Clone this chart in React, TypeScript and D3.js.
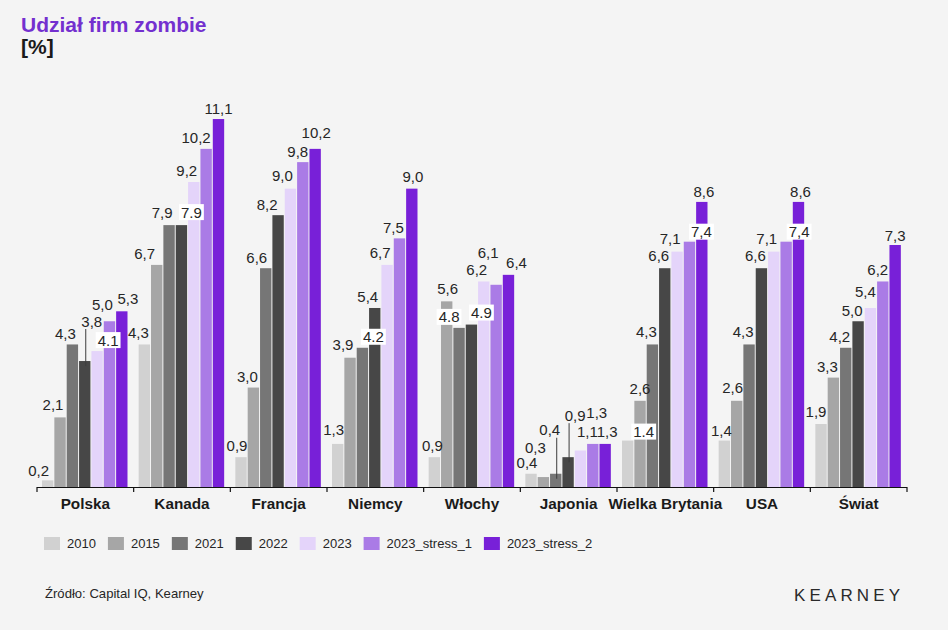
import React, { useRef, useEffect } from 'react';
import * as d3 from 'd3';

// chart data
const CATEGORIES = ['Polska', 'Kanada', 'Francja', 'Niemcy', 'Włochy', 'Japonia', 'Wielka Brytania', 'USA', 'Świat'];
const SERIES = ['2010', '2015', '2021', '2022', '2023', '2023_stress_1', '2023_stress_2'];
const V_2010 = [0.2, 4.3, 0.9, 1.3, 0.9, 0.4, 1.4, 1.4, 1.9];
const V_2015 = [2.1, 6.7, 3.0, 3.9, 5.6, 0.3, 2.6, 2.6, 3.3];
const V_2021 = [4.3, 7.9, 6.6, 4.2, 4.8, 0.4, 4.3, 4.3, 4.2];
const V_2022 = [3.8, 7.9, 8.2, 5.4, 4.9, 0.9, 6.6, 6.6, 5.0];
const V_2023 = [4.1, 9.2, 9.0, 6.7, 6.2, 1.1, 7.1, 7.1, 5.4];
const V_STRESS_1 = [5.0, 10.2, 9.8, 7.5, 6.1, 1.3, 7.4, 7.4, 6.2];
const V_STRESS_2 = [5.3, 11.1, 10.2, 9.0, 6.4, 1.3, 8.6, 8.6, 7.3];
const VALUES = [V_2010, V_2015, V_2021, V_2022, V_2023, V_STRESS_1, V_STRESS_2];

const COLORS = ['#d1d1d1', '#a6a6a6', '#767676', '#474747', '#e4d4fa', '#aa7be6', '#7820d8'];

// hand-placed label nudges (px, relative to bar centre / bar top), per category then series
const LABEL_NUDGE: [number, number][][] = [
    [[-9, -10], [-7, -13], [-7, -11], [7, -40], [11, -11], [-7, -17], [6, -13]],
    [[-6, -12], [-12, -11], [-7, -13], [10, -13], [-7, -12], [-10, -11], [0, -11]],
    [[-4, -12], [-6, -11], [-9, -11], [-11, -11], [-8, -13], [-5, -11], [1, -16]],
    [[-4, -14], [-7, -13], [11, -11], [-7, -11], [-7, -12], [-6, -11], [1, -12]],
    [[-2, -12], [1, -13], [-10, -11], [10, -12], [-7, -12], [-8, -32], [8, -12]],
    [[-4, -11], [-8, -30], [-6, -44], [7, -42], [7, -19], [4, -31], [2, -12]],
    [[16, -9], [0, -12], [-6, -13], [-6, -13], [-7, -13], [12, -10], [2, -10]],
    [[-3, -10], [-4, -13], [-6, -13], [-6, -13], [-7, -13], [13, -10], [2, -10]],
    [[-5, -13], [-6, -11], [-6, -11], [-6, -11], [-5, -16], [-5, -12], [0, -10]],
];
// labels drawn on a white box, written with a dot
const BOXED = ['0-4', '1-3', '3-2', '4-2', '4-3', '6-0', '6-5', '7-5'];
const DOT = ['0-4', '1-3', '3-2', '4-2', '4-3', '6-0'];
const LEADER = ['0-3', '5-2', '5-3'];

const W = 948;
const H = 630;
const BG = '#f4f4f4';
const FONT = "'Liberation Sans', Arial, sans-serif";

const ZombieChart: React.FC = () => {
    const svgRef = useRef<SVGSVGElement>(null);

    useEffect(() => {
        const svg = d3.select(svgRef.current);
        svg.selectAll('*').remove();

        const plot = { left: 37, right: 907, base: 487 };

        const x0 = d3.scaleBand<string>().domain(CATEGORIES).range([plot.left, plot.right]).padding(0);
        const x1 = d3.scaleBand<string>().domain(SERIES).range([5, 90.5]).paddingInner(0.08).paddingOuter(0);
        const y = d3.scaleLinear().domain([0, 12]).range([plot.base, plot.base - 12 * 33.15]);

        svg.append('rect').attr('width', W).attr('height', H).attr('fill', BG);

        // title
        svg.append('text')
            .attr('x', 21).attr('y', 32)
            .attr('font-family', FONT).attr('font-size', 21).attr('font-weight', 'bold')
            .attr('fill', '#7330cf')
            .text('Udział firm zombie');
        svg.append('text')
            .attr('x', 21).attr('y', 54)
            .attr('font-family', FONT).attr('font-size', 21).attr('font-weight', 'bold')
            .attr('fill', '#1a1a1a')
            .text('[%]');

        // bars
        const groups = svg.append('g').selectAll('g')
            .data(CATEGORIES)
            .join('g')
            .attr('transform', c => `translate(${x0(c)},0)`);

        groups.selectAll('rect')
            .data((c, ci) => SERIES.map((s, si) => ({ s, si, v: VALUES[si][ci] })))
            .join('rect')
            .attr('x', d => x1(d.s)!)
            .attr('width', x1.bandwidth())
            .attr('y', d => y(d.v))
            .attr('height', d => y(0) - y(d.v))
            .attr('fill', d => COLORS[d.si]);

        // value labels
        const labels = svg.append('g');
        CATEGORIES.forEach((c, ci) => {
            SERIES.forEach((s, si) => {
                const v = VALUES[si][ci];
                const key = `${ci}-${si}`;
                const [dx, dy] = LABEL_NUDGE[ci][si];
                const cx = x0(c)! + x1(s)! + x1.bandwidth() / 2;
                const top = y(v);
                const lx = cx + dx;
                const ly = top + dy;
                const txt = DOT.includes(key) ? v.toFixed(1) : v.toFixed(1).replace('.', ',');

                if (LEADER.includes(key)) {
                    labels.append('line')
                        .attr('x1', cx + 1).attr('x2', cx + 1)
                        .attr('y1', ly + 8).attr('y2', top + 5)
                        .attr('stroke', '#3c3c3c').attr('stroke-width', 1);
                }
                const box = BOXED.includes(key) ? labels.append('rect') : null;
                const t = labels.append('text')
                    .attr('x', lx).attr('y', ly + 5.5)
                    .attr('text-anchor', 'middle')
                    .attr('font-family', FONT).attr('font-size', 15)
                    .attr('fill', '#262626')
                    .text(txt);
                if (box) {
                    const bb = (t.node() as SVGTextElement).getBBox();
                    box.attr('x', bb.x - 2).attr('y', ly - 8)
                        .attr('width', bb.width + 4).attr('height', 16)
                        .attr('fill', '#ffffff');
                }
            });
        });

        // axis line, boundary ticks, category names
        const axis = svg.append('g');
        axis.append('line')
            .attr('x1', plot.left).attr('x2', plot.right)
            .attr('y1', plot.base + 0.5).attr('y2', plot.base + 0.5)
            .attr('stroke', '#111').attr('stroke-width', 1.2);
        const edges = [...CATEGORIES.map(c => x0(c)!), plot.right];
        axis.selectAll('line.tick')
            .data(edges)
            .join('line')
            .attr('class', 'tick')
            .attr('x1', d => d).attr('x2', d => d)
            .attr('y1', plot.base).attr('y2', plot.base + 5)
            .attr('stroke', '#111').attr('stroke-width', 1.2);
        axis.selectAll('text')
            .data(CATEGORIES)
            .join('text')
            .attr('x', c => x0(c)! + x0.bandwidth() / 2)
            .attr('y', 509)
            .attr('text-anchor', 'middle')
            .attr('font-family', FONT).attr('font-size', 15.3).attr('font-weight', 'bold')
            .attr('fill', '#1a1a1a')
            .text(c => c);

        // legend
        const legend = svg.append('g');
        let lx = 44;
        SERIES.forEach((s, si) => {
            legend.append('rect')
                .attr('x', lx).attr('y', 537)
                .attr('width', 16).attr('height', 13)
                .attr('fill', COLORS[si]);
            const t = legend.append('text')
                .attr('x', lx + 23).attr('y', 548)
                .attr('font-family', FONT).attr('font-size', 13)
                .attr('fill', '#262626')
                .text(s);
            lx += 23 + (t.node() as SVGTextElement).getComputedTextLength() + 12;
        });

        // source + brand
        svg.append('text')
            .attr('x', 45).attr('y', 598)
            .attr('font-family', FONT).attr('font-size', 13.1)
            .attr('fill', '#262626')
            .text('Źródło: Capital IQ, Kearney');
        svg.append('text')
            .attr('x', 794).attr('y', 600.5)
            .attr('font-family', FONT).attr('font-size', 17)
            .attr('fill', '#2a2a2a')
            .attr('textLength', 106).attr('lengthAdjust', 'spacing')
            .text('KEARNEY');
    }, []);

    return (
        <svg
            ref={svgRef}
            width={W}
            height={H}
            style={{ position: 'fixed', left: 0, top: 0, display: 'block' }}
        />
    );
};

export default function App() {
    return <ZombieChart />;
}
